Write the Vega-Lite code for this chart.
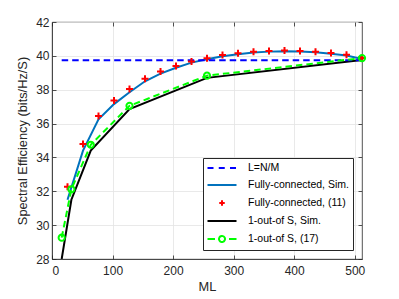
{
  "$schema": "https://vega.github.io/schema/vega-lite/v6.json",
  "width": 310,
  "height": 237,
  "autosize": {"type": "none"},
  "padding": {"left": 52, "top": 22, "right": 37, "bottom": 40},
  "background": "white",
  "config": {
    "font": "Liberation Sans",
    "view": {"stroke": "#262626", "strokeWidth": 0.8},
    "axis": {
      "labelFont": "Liberation Sans",
      "labelFontSize": 12,
      "labelColor": "#262626",
      "titleFont": "Liberation Sans",
      "titleFontSize": 12.8,
      "titleFontWeight": "normal",
      "titleColor": "#262626",
      "domainColor": "#262626",
      "domainWidth": 0.8,
      "tickColor": "#262626",
      "tickWidth": 0.8,
      "tickSize": -4,
      "gridColor": "#e3e3e3",
      "gridWidth": 0.8
    }
  },
  "datasets": {
    "d": [
      {"series": "L=N/M", "ML": 16, "SE": 39.74},
      {"series": "L=N/M", "ML": 512, "SE": 39.74},
      {"series": "Fully-connected, Sim.", "ML": 25.6, "SE": 31.5},
      {"series": "Fully-connected, Sim.", "ML": 51.2, "SE": 34.4},
      {"series": "Fully-connected, Sim.", "ML": 76.8, "SE": 36.25},
      {"series": "Fully-connected, Sim.", "ML": 102.4, "SE": 37.15},
      {"series": "Fully-connected, Sim.", "ML": 128, "SE": 37.85},
      {"series": "Fully-connected, Sim.", "ML": 153.6, "SE": 38.5},
      {"series": "Fully-connected, Sim.", "ML": 179.2, "SE": 38.95},
      {"series": "Fully-connected, Sim.", "ML": 204.8, "SE": 39.3},
      {"series": "Fully-connected, Sim.", "ML": 230.4, "SE": 39.6},
      {"series": "Fully-connected, Sim.", "ML": 256, "SE": 39.8},
      {"series": "Fully-connected, Sim.", "ML": 281.6, "SE": 39.98},
      {"series": "Fully-connected, Sim.", "ML": 307.2, "SE": 40.1},
      {"series": "Fully-connected, Sim.", "ML": 332.8, "SE": 40.2},
      {"series": "Fully-connected, Sim.", "ML": 358.4, "SE": 40.25},
      {"series": "Fully-connected, Sim.", "ML": 384, "SE": 40.27},
      {"series": "Fully-connected, Sim.", "ML": 409.6, "SE": 40.26},
      {"series": "Fully-connected, Sim.", "ML": 435.2, "SE": 40.21},
      {"series": "Fully-connected, Sim.", "ML": 460.8, "SE": 40.13},
      {"series": "Fully-connected, Sim.", "ML": 486.4, "SE": 40.02},
      {"series": "Fully-connected, Sim.", "ML": 512, "SE": 39.82},
      {"series": "Fully-connected, (11)", "ML": 25.6, "SE": 32.27},
      {"series": "Fully-connected, (11)", "ML": 51.2, "SE": 34.79},
      {"series": "Fully-connected, (11)", "ML": 76.8, "SE": 36.45},
      {"series": "Fully-connected, (11)", "ML": 102.4, "SE": 37.37},
      {"series": "Fully-connected, (11)", "ML": 128, "SE": 38.04},
      {"series": "Fully-connected, (11)", "ML": 153.6, "SE": 38.65},
      {"series": "Fully-connected, (11)", "ML": 179.2, "SE": 39.07},
      {"series": "Fully-connected, (11)", "ML": 204.8, "SE": 39.4},
      {"series": "Fully-connected, (11)", "ML": 230.4, "SE": 39.66},
      {"series": "Fully-connected, (11)", "ML": 256, "SE": 39.86},
      {"series": "Fully-connected, (11)", "ML": 281.6, "SE": 40.05},
      {"series": "Fully-connected, (11)", "ML": 307.2, "SE": 40.15},
      {"series": "Fully-connected, (11)", "ML": 332.8, "SE": 40.25},
      {"series": "Fully-connected, (11)", "ML": 358.4, "SE": 40.29},
      {"series": "Fully-connected, (11)", "ML": 384, "SE": 40.31},
      {"series": "Fully-connected, (11)", "ML": 409.6, "SE": 40.29},
      {"series": "Fully-connected, (11)", "ML": 435.2, "SE": 40.25},
      {"series": "Fully-connected, (11)", "ML": 460.8, "SE": 40.17},
      {"series": "Fully-connected, (11)", "ML": 486.4, "SE": 40.07},
      {"series": "Fully-connected, (11)", "ML": 512, "SE": 39.87},
      {"series": "1-out-of S, Sim.", "ML": 16, "SE": 28.0},
      {"series": "1-out-of S, Sim.", "ML": 32, "SE": 31.5},
      {"series": "1-out-of S, Sim.", "ML": 64, "SE": 34.4},
      {"series": "1-out-of S, Sim.", "ML": 128, "SE": 36.85},
      {"series": "1-out-of S, Sim.", "ML": 256, "SE": 38.7},
      {"series": "1-out-of S, Sim.", "ML": 512, "SE": 39.75},
      {"series": "1-out-of S, (17)", "ML": 16, "SE": 29.26},
      {"series": "1-out-of S, (17)", "ML": 32, "SE": 32.12},
      {"series": "1-out-of S, (17)", "ML": 64, "SE": 34.75},
      {"series": "1-out-of S, (17)", "ML": 128, "SE": 37.05},
      {"series": "1-out-of S, (17)", "ML": 256, "SE": 38.83},
      {"series": "1-out-of S, (17)", "ML": 512, "SE": 39.87}
    ]
  },
  "data": {"name": "d"},
  "layer": [
    {
      "transform": [{"filter": "datum.series === 'Fully-connected, Sim.' || datum.series === '1-out-of S, Sim.'"}],
      "mark": {"type": "line", "strokeWidth": 2, "clip": true},
      "encoding": {
        "x": {
          "field": "ML", "type": "quantitative",
          "scale": {"domain": [0, 512], "nice": false, "zero": false},
          "axis": {"values": [0, 100, 200, 300, 400, 500], "title": "ML", "grid": true, "labelPadding": 10, "titlePadding": 4}
        },
        "y": {
          "field": "SE", "type": "quantitative",
          "scale": {"domain": [28, 42], "nice": false, "zero": false},
          "axis": {"values": [28, 30, 32, 34, 36, 38, 40, 42], "title": "Spectral Efficiency (bits/Hz/S)", "grid": true, "labelPadding": 7, "titlePadding": 6}
        },
        "color": {
          "field": "series", "type": "nominal",
          "scale": {
            "domain": ["L=N/M", "Fully-connected, Sim.", "Fully-connected, (11)", "1-out-of S, Sim.", "1-out-of S, (17)"],
            "range": ["#0000FF", "#0072BD", "#FF0000", "#000000", "#00FF00"]
          },
          "legend": {
            "title": null,
            "orient": "bottom-right",
            "offset": 9,
            "fillColor": "white",
            "strokeColor": "#262626",
            "padding": 4,
            "labelFont": "Liberation Sans",
            "labelFontSize": 10.5,
            "labelColor": "#000000",
            "symbolSize": 100,
            "symbolOffset": 9,
            "labelOffset": 20,
            "symbolStrokeWidth": 2,
            "rowPadding": 5,
            "symbolType": "stroke",
            "encode": {
              "symbols": {
                "update": {
                  "shape": {"signal": "datum.value === 'Fully-connected, (11)' ? 'M-0.55,0H0.55M0,-0.55V0.55' : datum.value === '1-out-of S, (17)' ? 'M-2.9,0H-1.4M-0.6,0A0.6,0.6 0 1 0 0.6,0A0.6,0.6 0 1 0 -0.6,0M1.4,0H2.9' : datum.value === 'L=N/M' ? 'M-2.9,0H-1.7M-0.65,0H0.55M1.6,0H2.8' : 'M-2.9,0H2.9'"},
                  "strokeDash": {"value": [1, 0]},
                  "fill": {"value": "transparent"},
                  "fillOpacity": {"value": 0},
                  "strokeWidth": {"value": 2}
                }
              }
            }
          }
        }
      }
    },
    {
      "transform": [{"filter": "datum.series === 'L=N/M' || datum.series === '1-out-of S, (17)'"}],
      "mark": {"type": "line", "strokeWidth": 2, "strokeDash": [6.5, 4], "clip": true},
      "encoding": {
        "x": {"field": "ML", "type": "quantitative", "axis": null},
        "y": {"field": "SE", "type": "quantitative", "axis": null},
        "color": {"field": "series", "type": "nominal", "legend": null}
      }
    },
    {
      "transform": [{"filter": "datum.series === 'Fully-connected, (11)' || datum.series === '1-out-of S, (17)'"}],
      "mark": {"type": "point", "filled": false, "strokeWidth": 2, "opacity": 1},
      "encoding": {
        "x": {"field": "ML", "type": "quantitative", "axis": null},
        "y": {"field": "SE", "type": "quantitative", "axis": null},
        "color": {"field": "series", "type": "nominal", "legend": null},
        "shape": {
          "field": "series", "type": "nominal",
          "scale": {"domain": ["Fully-connected, (11)", "1-out-of S, (17)"], "range": ["M-1,0H1M0,-1V1", "circle"]},
          "legend": null
        },
        "size": {
          "field": "series", "type": "nominal",
          "scale": {"domain": ["Fully-connected, (11)", "1-out-of S, (17)"], "range": [49, 38]},
          "legend": null
        }
      }
    },
    {
      "mark": {"type": "point", "opacity": 0},
      "encoding": {
        "x": {"field": "ML", "type": "quantitative", "axis": {"orient": "top", "values": [0, 100, 200, 300, 400, 500], "labels": false, "title": null, "grid": false, "domain": false}},
        "y": {"field": "SE", "type": "quantitative", "axis": {"orient": "right", "values": [28, 30, 32, 34, 36, 38, 40, 42], "labels": false, "title": null, "grid": false, "domain": false}}
      }
    }
  ],
  "resolve": {"axis": {"x": "independent", "y": "independent"}}
}
